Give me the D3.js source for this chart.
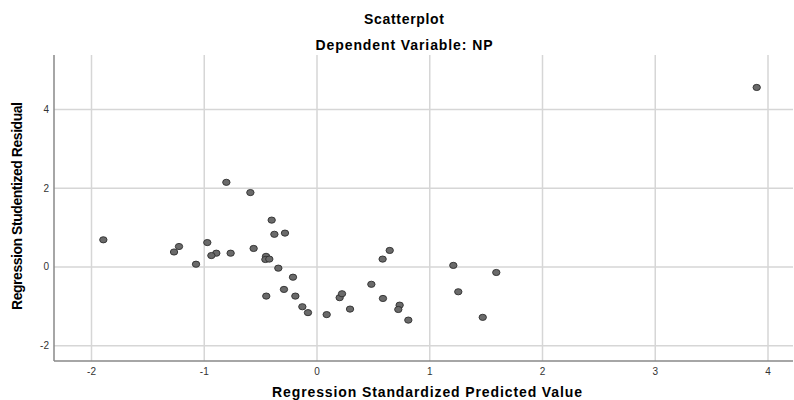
<!DOCTYPE html>
<html>
<head>
<meta charset="utf-8">
<script src="https://cdn.jsdelivr.net/npm/d3@7"></script>
<style>
  body { margin: 0; background: #fff; }
  text { font-family: "Liberation Sans", Arial, sans-serif; }
</style>
</head>
<body>
<svg id="chart" width="794" height="400"></svg>
<script>
// predicted (x) and studentized residual (y)
var predicted = [-1.895, -0.804, -0.591, -0.402, -0.378, -0.284, -1.224, -1.268, -0.973, -0.893,
  -0.937, -0.766, -1.073, -0.562, -0.452, -0.458, -0.423, -0.343, -0.213, -0.293,
  -0.45, -0.192, -0.13, -0.08, 0.086, 0.201, 0.222, 0.293, 0.482, 0.582,
  0.645, 0.585, 0.733, 0.721, 0.81, 1.209, 1.253, 1.47, 1.59, 3.90]
var residual = [0.69, 2.15, 1.89, 1.19, 0.83, 0.86, 0.52, 0.38, 0.62, 0.35,
  0.29, 0.35, 0.07, 0.47, 0.27, 0.19, 0.20, -0.03, -0.26, -0.57,
  -0.74, -0.74, -1.01, -1.16, -1.21, -0.78, -0.68, -1.07, -0.44, 0.20,
  0.42, -0.80, -0.97, -1.08, -1.35, 0.04, -0.63, -1.28, -0.14, 4.56]
var xTicks = [-2, -1, 0, 1, 2, 3, 4]
var yTicks = [-2, 0, 2, 4]

var svg = d3.select("#chart")
var plotLeft = 54, plotRight = 793, plotTop = 55, plotBottom = 361

var xScale = d3.scaleLinear().domain([-2, 4]).range([91.5, 768])
var yScale = d3.scaleLinear().domain([-2, 4]).range([345.7, 109.5])

var grid = svg.append("g")
grid.selectAll(".vgrid").data(xTicks).enter().append("line")
  .attr("class", "vgrid")
  .attr("x1", function (d) { return xScale(d) })
  .attr("x2", function (d) { return xScale(d) })
  .attr("y1", plotTop).attr("y2", plotBottom)
  .attr("stroke", "#d6d6d6").attr("stroke-width", 1.5)
grid.selectAll(".hgrid").data(yTicks).enter().append("line")
  .attr("class", "hgrid")
  .attr("x1", plotLeft).attr("x2", plotRight)
  .attr("y1", function (d) { return yScale(d) })
  .attr("y2", function (d) { return yScale(d) })
  .attr("stroke", "#d6d6d6").attr("stroke-width", 1.5)

// axes, no tick marks
svg.append("line").attr("x1", plotLeft).attr("x2", plotLeft).attr("y1", plotTop).attr("y2", plotBottom)
  .attr("stroke", "#888").attr("stroke-width", 1.5)
svg.append("line").attr("x1", plotLeft).attr("x2", plotRight).attr("y1", plotBottom).attr("y2", plotBottom)
  .attr("stroke", "#888").attr("stroke-width", 1.5)

svg.selectAll(".xlab").data(xTicks).enter().append("text")
  .attr("class", "xlab")
  .attr("x", function (d) { return xScale(d) })
  .attr("y", 375)
  .attr("text-anchor", "middle")
  .attr("font-size", 10)
  .attr("fill", "#333")
  .text(function (d) { return d })
svg.selectAll(".ylab").data(yTicks).enter().append("text")
  .attr("class", "ylab")
  .attr("x", 49)
  .attr("y", function (d) { return yScale(d) + 3.5 })
  .attr("text-anchor", "end")
  .attr("font-size", 10)
  .attr("fill", "#333")
  .text(function (d) { return d })

var pts = predicted.map(function (x, i) { return { x: x, y: residual[i] } })
svg.selectAll(".pt").data(pts).enter().append("ellipse")
  .attr("class", "pt")
  .attr("cx", function (d) { return xScale(d.x) })
  .attr("cy", function (d) { return yScale(d.y) })
  .attr("rx", 3.7).attr("ry", 3.1)
  .attr("fill", "#6a6a6a")
  .attr("stroke", "#2e2e2e").attr("stroke-width", 0.9)

function title(x, y, w, str, rot) {
  var t = svg.append("text")
    .attr("text-anchor", "middle").attr("font-size", 14).attr("font-weight", "bold")
    .attr("textLength", w).attr("lengthAdjust", "spacing")
    .text(str)
  if (rot) t.attr("transform", "translate(" + x + "," + y + ") rotate(-90)")
  else t.attr("x", x).attr("y", y)
}
title(404, 24, 80, "Scatterplot")
title(404, 50, 177, "Dependent Variable: NP")
title(427, 397, 310, "Regression Standardized Predicted Value")
title(22, 206, 208, "Regression Studentized Residual", true)
</script>
</body>
</html>
